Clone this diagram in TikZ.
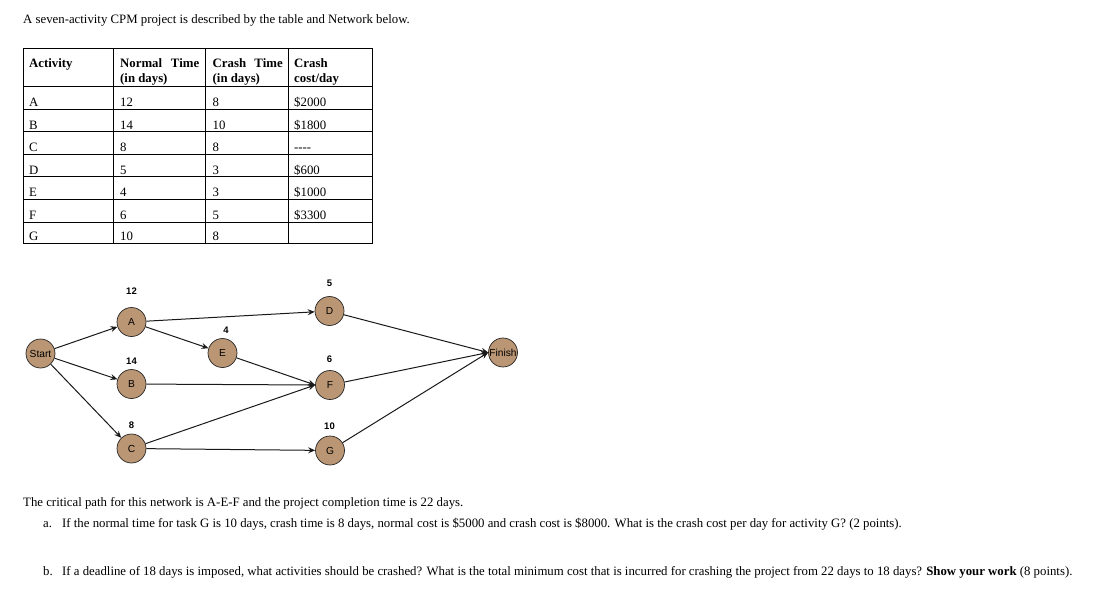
\documentclass[tikz,border=0pt]{standalone}
\usepackage{fontspec}
\setmainfont{Liberation Serif}
\newfontfamily\netfont{Liberation Sans}
\usetikzlibrary{arrows.meta}
\definecolor{nodetan}{RGB}{186,150,116}
\tikzset{
  txt/.style={anchor=base west, inner sep=0pt, font=\fontsize{12.8}{15}\selectfont},
  head/.style={txt, font=\bfseries\fontsize{12.8}{15}\selectfont},
  evt/.style={circle, draw=black!85, line width=0.7pt, fill=nodetan, minimum size=29pt, inner sep=0pt, font=\netfont\fontsize{10.2}{12}\selectfont},
  dur/.style={inner sep=0pt, font=\netfont\bfseries\fontsize{9.5}{11}\selectfont},
  link/.style={-{Stealth[length=7pt,width=6pt,inset=2.5pt]}, line width=1pt, draw=black!90},
}
\begin{document}
\begin{tikzpicture}[x=1pt,y=-1pt]
\useasboundingbox (0,0) rectangle (1102,602);
\node[txt] (title) at (23,24) {A seven-activity CPM project is described by the table and Network below.};

% table grid
\draw[line width=0.7pt] (23,48.5) rectangle (372,243.5);
\draw[line width=0.7pt] (23,86.3) -- (372,86.3) (23,109) -- (372,109) (23,131.6) -- (372,131.6)
  (23,154.2) -- (372,154.2) (23,176.8) -- (372,176.8) (23,199.4) -- (372,199.4) (23,222) -- (372,222);
\draw[line width=0.7pt] (113.5,48.5) -- (113.5,243.5) (205,48.5) -- (205,243.5) (288,48.5) -- (288,243.5);

% header
\node[head] (hact) at (29,67) {Activity};
\node[head] (hnorm) at (120,67) {\makebox[79pt][s]{Normal Time}};
\node[head] (hnormb) at (120,82.6) {(in days)};
\node[head] (hcrash) at (212.5,67) {\makebox[70pt][s]{Crash Time}};
\node[head] (hcrashb) at (212.5,82.6) {(in days)};
\node[head] (hcost) at (294,67) {Crash};
\node[head] (hcostb) at (294,82.6) {cost/day};

% rows
\node[txt] (ra) at (29,106.4) {A};
\node[txt] (na) at (120,106.4) {12};
\node[txt] (ca) at (212.5,106.4) {8};
\node[txt] (ka) at (294,106.4) {\$2000};
\node[txt] (rb) at (29,129) {B};
\node[txt] (nb) at (120,129) {14};
\node[txt] (cb) at (212.5,129) {10};
\node[txt] (kb) at (294,129) {\$1800};
\node[txt] (rc) at (29,151.6) {C};
\node[txt] (nc) at (120,151.6) {8};
\node[txt] (cc) at (212.5,151.6) {8};
\node[txt] (kc) at (294,151.6) {-{}-{}-{}-};
\node[txt] (rd) at (29,174.2) {D};
\node[txt] (nd) at (120,174.2) {5};
\node[txt] (cd) at (212.5,174.2) {3};
\node[txt] (kd) at (294,174.2) {\$600};
\node[txt] (re) at (29,196.8) {E};
\node[txt] (ne) at (120,196.8) {4};
\node[txt] (ce) at (212.5,196.8) {3};
\node[txt] (ke) at (294,196.8) {\$1000};
\node[txt] (rf) at (29,219.4) {F};
\node[txt] (nf) at (120,219.4) {6};
\node[txt] (cf) at (212.5,219.4) {5};
\node[txt] (kf) at (294,219.4) {\$3300};
\node[txt] (rg) at (29,240.5) {G};
\node[txt] (ng) at (120,240.5) {10};
\node[txt] (cg) at (212.5,240.5) {8};

% network
\node[evt] (start) at (40.5,353.5) {Start};
\node[evt] (a) at (131.5,322) {A};
\node[evt] (b) at (131.5,384) {B};
\node[evt] (c) at (131.5,448.5) {C};
\node[evt] (e) at (222.5,353) {E};
\node[evt] (d) at (329.5,311) {D};
\node[evt] (f) at (330,385) {F};
\node[evt] (g) at (330,450.5) {G};
\node[evt] (fin) at (503,352.5) {Finish};

\node[dur] (da) at (131.5,291.5) {12};
\node[dur] (db) at (131.5,361.5) {14};
\node[dur] (dc) at (131.5,425.5) {8};
\node[dur] (de) at (226,330.5) {4};
\node[dur] (dd) at (329.5,283.5) {5};
\node[dur] (df) at (329.5,359) {6};
\node[dur] (dg) at (329.5,426.5) {10};

\draw[link] (start) -- (a);
\draw[link] (start) -- (b);
\draw[link] (start) -- (c);
\draw[link] (a) -- (d);
\draw[link] (a) -- (e);
\draw[link] (e) -- (f.west);
\draw[link] (b) -- (f.west);
\draw[link] (c) -- (f.west);
\draw[link] (c) -- (g);
\draw[link] (d) -- (fin.west);
\draw[link] (f) -- (fin.west);
\draw[link] (g) -- (fin.west);

% questions
\node[txt] (crit) at (23,506.5) {The critical path for this network is A-E-F and the project completion time is 22 days.};
\node[txt] (qa) at (43,527.5) {a.};
\node[txt] (qatext) at (62,527.5) {If the normal time for task G is 10 days, crash time is 8 days, normal cost is \$5000 and crash cost is \$8000. What is the crash cost per day for activity G? (2 points).};
\node[txt] (qb) at (43,575) {b.};
\node[txt] (qbtext) at (62,575) {If a deadline of 18 days is imposed, what activities should be crashed? What is the total minimum cost that is incurred for crashing the project from 22 days to 18 days? \textbf{Show your work} (8 points).};
\end{tikzpicture}
\end{document}
